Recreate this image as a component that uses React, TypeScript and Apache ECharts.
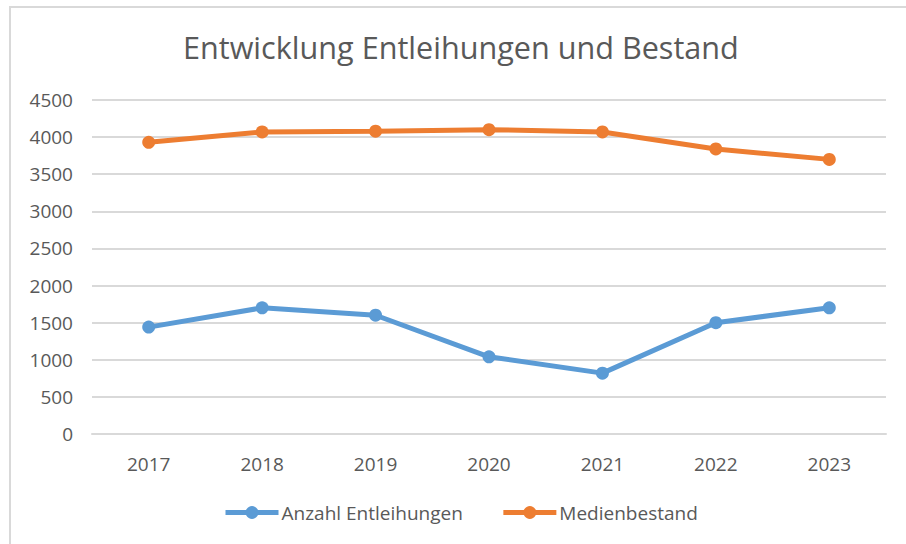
import React, { useEffect, useRef } from "react";
import * as echarts from "echarts";

const years = ["2017", "2018", "2019", "2020", "2021", "2022", "2023"];
const entleihungen = [1440, 1700, 1600, 1040, 820, 1500, 1700];
const medienbestand = [3930, 4070, 4080, 4100, 4070, 3840, 3700];

const FONT = "'Open Sans', 'Noto Sans', sans-serif";
const TEXT = "#595959";

export default function App() {
  const ref = useRef<HTMLDivElement>(null);
  useEffect(() => {
    if (!ref.current) return;
    const chart = echarts.init(ref.current, undefined, { renderer: "svg" });
    chart.setOption({
      animation: false,
      backgroundColor: "#ffffff",
      textStyle: { fontFamily: FONT, color: TEXT },
      graphic: [
        {
          type: "rect",
          shape: { x: 10, y: 7, width: 1000, height: 1000 },
          style: { fill: "none", stroke: "#d9d9d9", lineWidth: 2 },
          silent: true,
        },
      ],
      title: {
        text: "Entwicklung Entleihungen und Bestand",
        left: 178,
        top: 26,
        textStyle: { fontFamily: FONT, fontSize: 30.6, fontWeight: "normal", color: TEXT },
      },
      legend: {
        bottom: 22,
        left: 223,
        padding: 0,
        itemWidth: 53,
        itemHeight: 16,
        itemGap: 38,
        lineStyle: { width: 5 },
        textStyle: { fontFamily: FONT, fontSize: 19, color: TEXT, padding: [0, 0, 0, -2] },
        data: ["Anzahl Entleihungen", "Medienbestand"],
      },
      grid: { left: 92, right: 20, top: 100, bottom: 110, containLabel: false },
      xAxis: {
        type: "category",
        data: years,
        boundaryGap: true,
        axisLine: { show: true, lineStyle: { color: "#d9d9d9", width: 2 } },
        axisTick: { show: false },
        axisLabel: { fontFamily: FONT, fontSize: 19, color: TEXT, margin: 20 },
      },
      yAxis: {
        type: "value",
        min: 0,
        max: 4500,
        interval: 500,
        axisLine: { show: false },
        axisTick: { show: false },
        axisLabel: {
          fontFamily: FONT,
          fontSize: 19,
          color: TEXT,
          margin: 19,
          formatter: (v: number) => String(v),
        },
        splitLine: { lineStyle: { color: "#d9d9d9", width: 2 } },
      },
      series: [
        {
          name: "Anzahl Entleihungen",
          type: "line",
          data: entleihungen,
          color: "#5B9BD5",
          lineStyle: { width: 5, color: "#5B9BD5" },
          itemStyle: { color: "#5B9BD5" },
          symbol: "circle",
          symbolSize: 13,
        },
        {
          name: "Medienbestand",
          type: "line",
          data: medienbestand,
          color: "#ED7D31",
          lineStyle: { width: 5, color: "#ED7D31" },
          itemStyle: { color: "#ED7D31" },
          symbol: "circle",
          symbolSize: 13,
        },
      ],
    });
    return () => chart.dispose();
  }, []);
  return (
    <div
      ref={ref}
      style={{ position: "fixed", left: 0, top: 0, width: 906, height: 544, background: "#fff" }}
    />
  );
}
